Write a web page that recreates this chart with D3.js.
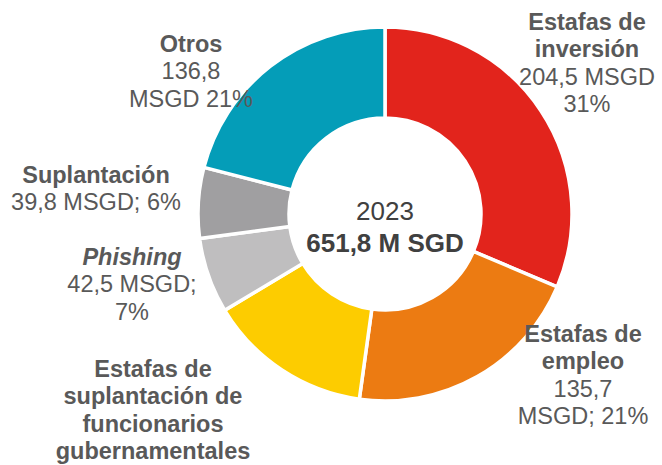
<!DOCTYPE html>
<html>
<head>
<meta charset="utf-8">
<script src="https://cdn.jsdelivr.net/npm/d3@7"></script>
<style>
  body { margin: 0; background: #fff; }
  svg { display: block; font-family: "Liberation Sans", Arial, sans-serif; }
</style>
</head>
<body>
<div class="donut"></div>
<script>
// data (M SGD, 2023)
var categories = ["Estafas de inversión", "Estafas de empleo", "Estafas de suplantación de funcionarios gubernamentales", "Phishing", "Suplantación", "Otros"];
var amounts = [204.5, 135.7, 92.5, 42.5, 39.8, 136.8];
var colors = ["#E2241C", "#EC7B12", "#FDCC00", "#BFBEBF", "#A09FA1", "#049DB8"];

// label text: bold title lines, then value lines
// (the gov. impersonation value line falls below the picture, so it is left out)
var titleLines = [
  ["Estafas de", "inversión"],
  ["Estafas de", "empleo"],
  ["Estafas de", "suplantación de", "funcionarios", "gubernamentales"],
  ["Phishing"],
  ["Suplantación"],
  ["Otros"]
];
var valueLines = [
  ["204,5 MSGD", "31%"],
  ["135,7", "MSGD; 21%"],
  [],
  ["42,5 MSGD;", "7%"],
  ["39,8 MSGD; 6%"],
  ["136,8", "MSGD 21%"]
];
var centerYear = "2023";
var centerTotal = "651,8 M SGD";

var width = 662, height = 465;
var cx = 385, cy = 214, outerR = 187, innerR = 96;

// where each label block sits (x centre, first baseline)
var labelPos = [[587, 30], [583, 342], [153, 377], [132, 265], [96, 183], [191, 52]];
var lineH = 27.3;

var svg = d3.select(".donut")
  .append("svg")
    .attr("width", width)
    .attr("height", height);

var pie = d3.pie().sort(null).value(function(d) { return d; });
var arc = d3.arc().innerRadius(innerR).outerRadius(outerR);

var g = svg.append("g")
  .attr("transform", "translate(" + cx + "," + cy + ")");

g.selectAll("path")
  .data(pie(amounts))
  .enter()
  .append("path")
    .attr("d", arc)
    .attr("fill", function(d, i) { return colors[i]; })
    .attr("stroke", "#fff")
    .attr("stroke-width", 3.5)
    .attr("stroke-linejoin", "miter");

// centre text
g.append("text")
  .attr("text-anchor", "middle")
  .attr("y", 6)
  .attr("font-size", 26)
  .attr("fill", "#404040")
  .text(centerYear);

g.append("text")
  .attr("text-anchor", "middle")
  .attr("y", 38)
  .attr("font-size", 26)
  .attr("font-weight", "bold")
  .attr("fill", "#404040")
  .text(centerTotal);

// slice labels
categories.forEach(function(c, i) {
  var t = svg.append("text")
    .attr("text-anchor", "middle")
    .attr("font-size", 23.5)
    .attr("fill", "#595959");
  var lines = titleLines[i].map(function(s) { return {s: s, bold: true}; })
    .concat(valueLines[i].map(function(s) { return {s: s, bold: false}; }));
  lines.forEach(function(l, k) {
    t.append("tspan")
      .attr("x", labelPos[i][0])
      .attr("y", labelPos[i][1] + k * lineH)
      .attr("font-weight", l.bold ? "bold" : "normal")
      .attr("font-style", (l.bold && c == "Phishing") ? "italic" : "normal")
      .text(l.s);
  });
});
</script>
</body>
</html>
